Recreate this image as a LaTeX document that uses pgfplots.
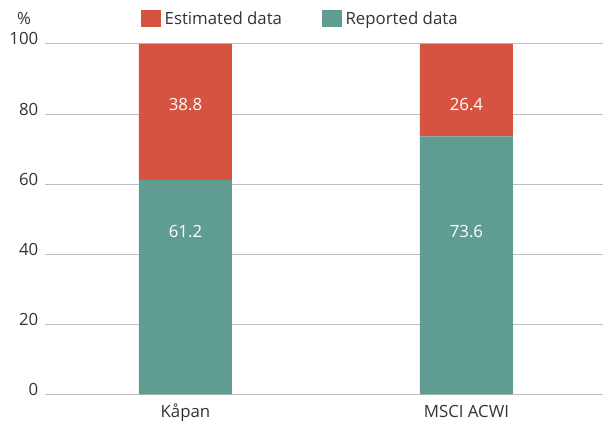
\documentclass[border=0pt]{standalone}
\usepackage{fontspec}
\setmainfont{Open Sans}
\usepackage{pgfplots}
\pgfplotsset{compat=1.18}
\definecolor{estred}{HTML}{D55340}
\definecolor{repteal}{HTML}{5F9D92}
\definecolor{txt}{HTML}{333333}
\definecolor{gridc}{HTML}{BFBFBF}
\begin{document}
\begin{tikzpicture}
\useasboundingbox (-45pt,-30.7pt) rectangle (558pt,394.3pt);
\begin{axis}[
  scale only axis,
  width=558pt, height=350.3pt,
  ybar stacked,
  bar width=93pt,
  xmin=-0.5, xmax=1.486,
  ymin=0, ymax=100,
  xtick=data,
  xticklabels={Kåpan, MSCI ACWI},
  ytick={0,20,40,60,80,100},
  axis x line*=bottom,
  axis y line*=left,
  x axis line style={draw=none},
  y axis line style={draw=none},
  major tick length=0pt,
  ymajorgrids,
  grid style={gridc, line width=1pt},
  font=\fontsize{16.8pt}{20pt}\selectfont,
  every tick label/.append style={text=txt},
  /pgf/number format/assume math mode=true,
  yticklabel style={anchor=base east, inner sep=0pt, xshift=-6.5pt, yshift=-1pt},
  xticklabel style={anchor=base, inner sep=0pt, yshift=-23.5pt},
  reverse legend,
  legend columns=2,
  legend style={draw=none, fill=none, anchor=west, at={(0.172,1.0715)}, inner sep=0pt,
    nodes={inner sep=0pt, anchor=west, text=txt, font=\fontsize{16.8pt}{20pt}\selectfont},
    /tikz/every odd column/.append style={column sep=3.5pt},
    /tikz/every even column/.append style={column sep=40pt}},
  legend image code/.code={\fill[#1] (0pt,-8.5pt) rectangle (20pt,8.5pt);},
  clip=false,
]
\addplot[fill=repteal, draw=none] coordinates {(0,61.2) (1,73.6)};
\addlegendentry{Reported data}
\addplot[fill=estred, draw=none] coordinates {(0,38.8) (1,26.4)};
\addlegendentry{Estimated data}
\coordinate (r0) at (axis cs:0,46.5);
\coordinate (r1) at (axis cs:1,46.5);
\coordinate (e0) at (axis cs:0,82.8);
\coordinate (e1) at (axis cs:1,82.8);
\coordinate (pct) at ([xshift=-21pt,yshift=25pt]rel axis cs:0,1);
\end{axis}
\begin{scope}[font=\fontsize{16.8pt}{20pt}\selectfont]
\node[text=white, anchor=center] at (r0) {61.2};
\node[text=white, anchor=center] at (r1) {73.6};
\node[text=white, anchor=center] at (e0) {38.8};
\node[text=white, anchor=center] at (e1) {26.4};
\node[text=txt, anchor=center] at (pct) {\%};
\end{scope}
\end{tikzpicture}
\end{document}
